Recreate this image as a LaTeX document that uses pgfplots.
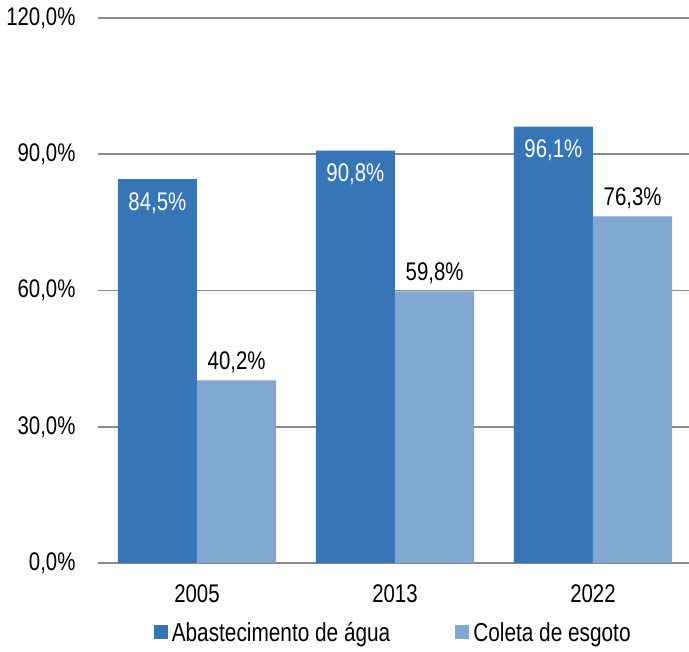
\documentclass[border=0pt]{standalone}
\usepackage{fontspec}
\setmainfont[FakeStretch=0.80]{Liberation Sans}
\usepackage{pgfplots}
\pgfplotsset{compat=1.18}
\definecolor{darkb}{HTML}{3675B6}
\definecolor{lightb}{HTML}{7FA7CF}
\definecolor{gridg}{HTML}{8A8A8A}
\begin{document}
\begin{tikzpicture}[font=\fontsize{25.5}{30}\selectfont]
\useasboundingbox (-98pt,-89pt) rectangle (591pt,563pt);
\begin{axis}[
  at={(0pt,0pt)}, anchor=south west,
  scale only axis, width=594pt, height=545pt,
  ybar=0pt, bar width=0.4,
  xmin=-0.5, xmax=2.5, ymin=0, ymax=120,
  xtick=data, xticklabels={2005,2013,2022},
  ytick={0,30,60,90,120},
  major tick length=0pt,
  yticklabel={\pgfmathprintnumber[fixed,fixed zerofill,precision=1,use comma,assume math mode=true]{\tick}\%},
  yticklabel style={xshift=-19pt},
  xticklabel style={yshift=-18pt},
  ymajorgrids, major grid style={gridg, line width=1.6pt},
  axis line style={draw=none},
  legend style={at={(0.497,-0.128)}, anchor=center, draw=none, legend columns=2,
    /tikz/every even column/.style={column sep=63pt}, inner sep=0pt,
    font=\fontsize{26}{30}\selectfont},
  legend cell align=left,
]
\addplot[draw=none, fill=darkb,
  legend image code/.code={\path (0pt,0pt) -- (16pt,0pt); \fill[darkb] (0pt,-6pt) rectangle (14pt,8pt);},
  nodes near coords={\pgfmathprintnumber[fixed,fixed zerofill,precision=1,use comma,assume math mode=true]{\pgfplotspointmeta}\%},
  nodes near coords style={anchor=base, yshift=-31pt, text=white}]
  coordinates {(0,84.5) (1,90.8) (2,96.1)};
\addlegendentry{Abastecimento de água}
\addplot[draw=none, fill=lightb,
  legend image code/.code={\path (0pt,0pt) -- (16pt,0pt); \fill[lightb] (0pt,-6pt) rectangle (14pt,8pt);},
  nodes near coords={\pgfmathprintnumber[fixed,fixed zerofill,precision=1,use comma,assume math mode=true]{\pgfplotspointmeta}\%},
  nodes near coords style={anchor=base, yshift=11pt, text=black}]
  coordinates {(0,40.2) (1,59.8) (2,76.3)};
\addlegendentry{Coleta de esgoto}
\end{axis}
\end{tikzpicture}
\end{document}
